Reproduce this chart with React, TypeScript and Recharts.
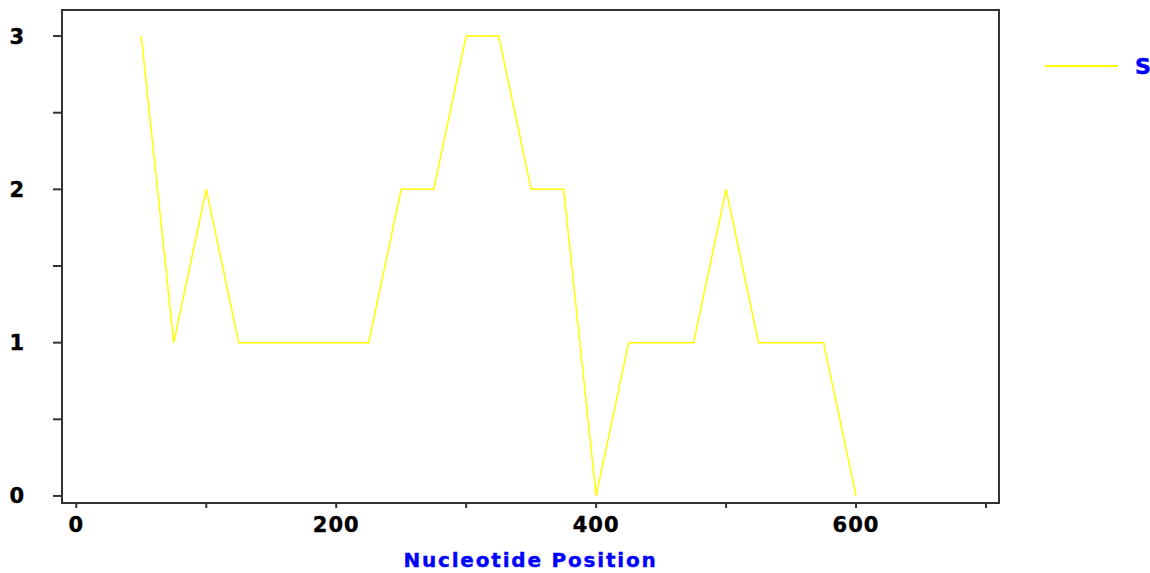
import React from 'react';
import { LineChart, Line, XAxis, YAxis, ReferenceArea } from 'recharts';

const positions = [50, 75, 100, 125, 150, 175, 200, 225, 250, 275, 300, 325, 350, 375, 400, 425, 450, 475, 500, 525, 550, 575, 600];
const values = [3, 1, 2, 1, 1, 1, 1, 1, 2, 2, 3, 3, 2, 2, 0, 1, 1, 1, 2, 1, 1, 1, 0];
const xTicks = [0, 100, 200, 300, 400, 500, 600, 700];
const xLabelTicks = [0, 200, 400, 600];
const yTicks = [0, 0.5, 1, 1.5, 2, 2.5, 3];
const seriesName = 'S';
const xTitle = 'Nucleotide Position';

const data = positions.map((p, i) => ({ pos: p, value: values[i] }));

const FONT = '"DejaVu Sans", sans-serif';
const XMIN = -11;
const XMAX = 710;
const YMIN = -0.046;
const YMAX = 3.17;

const tickStyle = { fill: '#000', fontFamily: FONT, fontWeight: 'bold', fontSize: 21, letterSpacing: 1, stroke: '#000', strokeWidth: 0.4 };

export default function App() {
  return (
    <div style={{ position: 'absolute', left: 0, top: 0, width: 1150, height: 573, background: '#fff', overflow: 'hidden' }}>
      <LineChart width={1150} height={573} data={data} margin={{ top: 10, right: 151, bottom: 0, left: 0 }}>
        <XAxis
          dataKey="pos"
          type="number"
          domain={[XMIN, XMAX]}
          allowDataOverflow
          ticks={xTicks}
          interval={0}
          tickFormatter={(v: number) => (xLabelTicks.includes(v) ? String(v) : '')}
          height={70}
          tickSize={5}
          tickMargin={9}
          axisLine={{ stroke: '#333', strokeWidth: 2 }}
          tickLine={{ stroke: '#333', strokeWidth: 2 }}
          tick={tickStyle}
          label={{ value: xTitle, position: 'insideBottom', offset: 6, fill: '#0000ff', stroke: '#0000ff', strokeWidth: 0.4, fontFamily: FONT, fontWeight: 'bold', fontSize: 20, letterSpacing: 1.8 }}
        />
        <YAxis
          type="number"
          domain={[YMIN, YMAX]}
          allowDataOverflow
          ticks={yTicks}
          interval={0}
          tickFormatter={(v: number) => (Number.isInteger(v) ? String(v) : '')}
          width={62}
          tickSize={9}
          tickMargin={28}
          axisLine={{ stroke: '#333', strokeWidth: 2 }}
          tickLine={{ stroke: '#333', strokeWidth: 2 }}
          tick={tickStyle}
        />
        <ReferenceArea x1={XMIN} x2={XMAX} y1={YMIN} y2={YMAX} fill="none" stroke="#333" strokeWidth={2} ifOverflow="visible" />
        <Line
          type="linear"
          dataKey="value"
          name={seriesName}
          stroke="#ffff00"
          strokeWidth={1.5}
          dot={false}
          activeDot={false}
          isAnimationActive={false}
        />
      </LineChart>
      <svg width={115} height={30} style={{ position: 'absolute', left: 1045, top: 51 }}>
        <line x1={0} y1={15} x2={73} y2={15} stroke="#ffff00" strokeWidth={2} />
        <text x={90} y={15} dy="0.36em" fill="#0000ff" stroke="#0000ff" strokeWidth={0.5} fontFamily={FONT} fontWeight="bold" fontSize={22}>
          {seriesName}
        </text>
      </svg>
    </div>
  );
}
